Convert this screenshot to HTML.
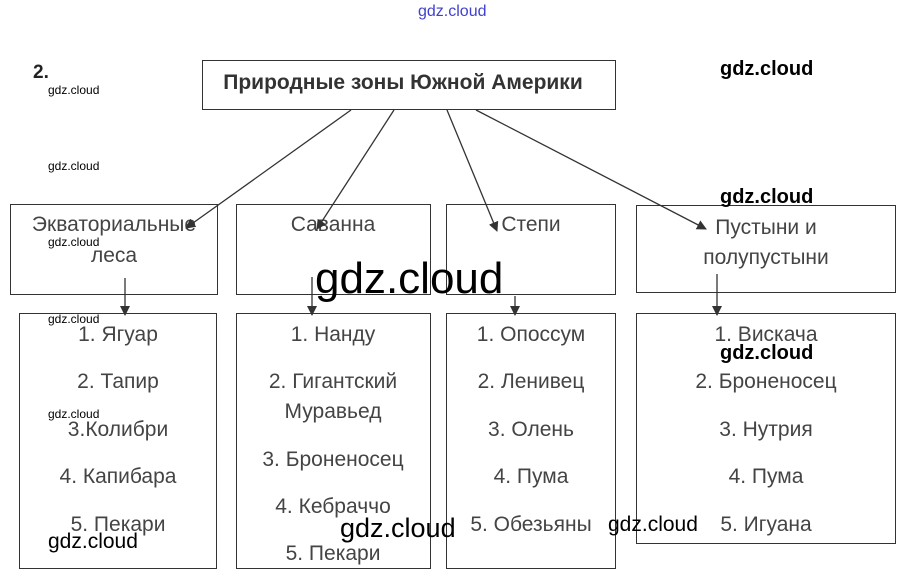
<!DOCTYPE html>
<html><head><meta charset="utf-8"><style>
html,body{margin:0;padding:0;background:#fff;}
body{width:911px;height:587px;position:relative;overflow:hidden;font-family:"Liberation Sans",sans-serif;}
.b{position:absolute;border:1px solid #333;box-sizing:border-box;background:#fff;}
.t{position:absolute;color:#444;font-size:21px;text-align:center;white-space:nowrap;transform:translateX(-50%);line-height:24px;}
.w{position:absolute;color:#000;font-family:"Liberation Sans",sans-serif;white-space:nowrap;}
</style></head><body>
<div class="b" style="left:202px;top:60px;width:414px;height:50px;"></div>
<div class="t" style="left:403px;top:71px;font-weight:bold;font-size:21px;color:#333;">Природные зоны Южной Америки</div>
<div class="w" style="left:33px;top:62px;font-size:19px;font-weight:bold;color:#222;">2.</div>

<div class="b" style="left:10px;top:204px;width:208px;height:91px;"></div>
<div class="b" style="left:236px;top:204px;width:195px;height:91px;"></div>
<div class="b" style="left:446px;top:204px;width:170px;height:91px;"></div>
<div class="b" style="left:636px;top:205px;width:260px;height:88px;"></div>
<div class="t" style="left:114px;top:213px;">Экваториальные</div>
<div class="t" style="left:114px;top:244px;">леса</div>
<div class="t" style="left:333px;top:213px;">Саванна</div>
<div class="t" style="left:531px;top:213px;">Степи</div>
<div class="t" style="left:766px;top:216px;">Пустыни и</div>
<div class="t" style="left:766px;top:246px;">полупустыни</div>

<div class="b" style="left:19px;top:313px;width:198px;height:256px;"></div>
<div class="b" style="left:236px;top:313px;width:195px;height:256px;"></div>
<div class="b" style="left:446px;top:313px;width:170px;height:256px;"></div>
<div class="b" style="left:636px;top:313px;width:260px;height:231px;"></div>

<div class="t" style="left:118px;top:323px;">1. Ягуар</div>
<div class="t" style="left:118px;top:370px;">2. Тапир</div>
<div class="t" style="left:118px;top:418px;">3.Колибри</div>
<div class="t" style="left:118px;top:465px;">4. Капибара</div>
<div class="t" style="left:118px;top:513px;">5. Пекари</div>

<div class="t" style="left:333px;top:323px;">1. Нанду</div>
<div class="t" style="left:333px;top:370px;">2. Гигантский</div>
<div class="t" style="left:333px;top:400px;">Муравьед</div>
<div class="t" style="left:333px;top:448px;">3. Броненосец</div>
<div class="t" style="left:333px;top:495px;">4. Кебраччо</div>
<div class="t" style="left:333px;top:542px;">5. Пекари</div>

<div class="t" style="left:531px;top:323px;">1. Опоссум</div>
<div class="t" style="left:531px;top:370px;">2. Ленивец</div>
<div class="t" style="left:531px;top:418px;">3. Олень</div>
<div class="t" style="left:531px;top:465px;">4. Пума</div>
<div class="t" style="left:531px;top:513px;">5. Обезьяны</div>

<div class="t" style="left:766px;top:323px;">1. Вискача</div>
<div class="t" style="left:766px;top:370px;">2. Броненосец</div>
<div class="t" style="left:766px;top:418px;">3. Нутрия</div>
<div class="t" style="left:766px;top:465px;">4. Пума</div>
<div class="t" style="left:766px;top:513px;">5. Игуана</div>

<svg width="911" height="587" style="position:absolute;left:0;top:0;">
<defs><marker id="a" markerWidth="10" markerHeight="10" refX="9" refY="5" orient="auto" markerUnits="userSpaceOnUse"><path d="M0,0 L10,5 L0,10 z" fill="#333"/></marker></defs>
<g stroke="#333" stroke-width="1.3" fill="none" marker-end="url(#a)">
<line x1="351" y1="110" x2="186" y2="228"/>
<line x1="394" y1="110" x2="317" y2="229"/>
<line x1="447" y1="110" x2="497" y2="231"/>
<line x1="476" y1="110" x2="706" y2="229"/>
<line x1="125" y1="278" x2="125" y2="315"/>
<line x1="312" y1="277" x2="312" y2="315"/>
<line x1="515" y1="296" x2="515" y2="315"/>
<line x1="717" y1="274" x2="717" y2="315"/>
</g></svg>

<div class="w" style="left:418px;top:3px;font-size:16px;color:#4040d0;">gdz.cloud</div>
<div class="w" style="left:48px;top:83px;font-size:12px;">gdz.cloud</div>
<div class="w" style="left:48px;top:159px;font-size:12px;">gdz.cloud</div>
<div class="w" style="left:48px;top:235px;font-size:12px;">gdz.cloud</div>
<div class="w" style="left:48px;top:312px;font-size:12px;">gdz.cloud</div>
<div class="w" style="left:48px;top:407px;font-size:12px;">gdz.cloud</div>
<div class="w" style="left:720px;top:58px;font-size:20px;font-weight:bold;">gdz.cloud</div>
<div class="w" style="left:720px;top:186px;font-size:20px;font-weight:bold;">gdz.cloud</div>
<div class="w" style="left:720px;top:342px;font-size:20px;font-weight:bold;">gdz.cloud</div>
<div class="w" style="left:315px;top:254px;font-size:44px;">gdz.cloud</div>
<div class="w" style="left:48px;top:530px;font-size:21px;">gdz.cloud</div>
<div class="w" style="left:340px;top:513px;font-size:27px;">gdz.cloud</div>
<div class="w" style="left:608px;top:513px;font-size:21px;">gdz.cloud</div>
</body></html>
